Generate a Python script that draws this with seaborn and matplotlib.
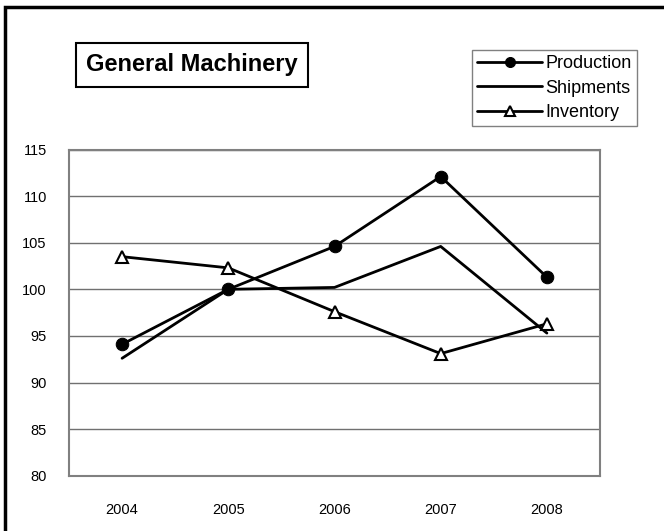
import numpy as np
import pandas as pd
import matplotlib
matplotlib.use('Agg')
import matplotlib.pyplot as plt
import seaborn as sns
from matplotlib.patches import Rectangle

# Data
years = [2004, 2005, 2006, 2007, 2008]
production = [94.1, 100.0, 104.6, 112.1, 101.3]
shipments = [92.6, 100.0, 100.2, 104.6, 95.3]
inventory = [103.5, 102.3, 97.6, 93.1, 96.3]
y_ticks = [80, 85, 90, 95, 100, 105, 110, 115]

sns.set_style('white')
plt.rcParams['font.family'] = ['Liberation Sans', 'DejaVu Sans']
plt.rcParams['text.color'] = 'black'
plt.rcParams['xtick.color'] = 'black'
plt.rcParams['ytick.color'] = 'black'

fig = plt.figure(figsize=(6.64, 5.31), dpi=100)
ax = fig.add_axes([69 / 664, 1 - 475.7 / 531, 531 / 664, 326.2 / 531])

# Horizontal gridlines
for v in y_ticks:
    ax.axhline(v, color='#707070', lw=1, zorder=0)

sns.lineplot(x=years, y=shipments, ax=ax, color='black', lw=2, label='Shipments', zorder=3)
sns.lineplot(x=years, y=inventory, ax=ax, color='black', lw=2, marker='^', markersize=9,
             markerfacecolor='white', markeredgecolor='black', markeredgewidth=1.5,
             label='Inventory', zorder=4)
sns.lineplot(x=years, y=production, ax=ax, color='black', lw=2, marker='o', markersize=9,
             markerfacecolor='black', markeredgecolor='black', label='Production', zorder=5)

ax.set_xlim(2003.5, 2008.5)
ax.set_ylim(80, 115)
ax.set_xticks(years)
ax.set_xticklabels([str(y) for y in years], fontsize=10.5)
ax.set_yticks(y_ticks)
ax.set_yticklabels([str(v) for v in y_ticks], fontsize=10.5)
ax.tick_params(axis='x', length=0, pad=20)
ax.tick_params(axis='y', length=0, pad=16)
for s in ax.spines.values():
    s.set_color('#808080')
    s.set_linewidth(1.5)
ax.set_xlabel('')
ax.set_ylabel('')

# Legend in its own box, order as in the reference
handles, labels = ax.get_legend_handles_labels()
order = [labels.index(n) for n in ['Production', 'Shipments', 'Inventory']]
leg = ax.legend([handles[i] for i in order], [labels[i] for i in order],
                loc='upper left', bbox_to_anchor=(472 / 664, 1 - 50 / 531),
                bbox_transform=fig.transFigure, fontsize=13, frameon=True, fancybox=False,
                edgecolor='#606060', handlelength=3.6, handletextpad=0.15, labelspacing=0.4,
                borderpad=0.3, borderaxespad=0, markerscale=0.8)
leg.get_frame().set_linewidth(1)

# Title in a box
fig.text(192 / 664, 1 - 65 / 531, 'General Machinery', ha='center', va='center',
         fontsize=17, fontweight='bold',
         bbox=dict(boxstyle='square,pad=0.45', facecolor='white', edgecolor='black', lw=1.5))

# Outer chart border (top and left visible)
fig.patches.append(Rectangle((5 / 664, -0.1), 1.2, 1 - 7 / 531 + 0.1, transform=fig.transFigure,
                             fill=False, edgecolor='black', lw=2.5))

fig.savefig('out.png', dpi=100)
